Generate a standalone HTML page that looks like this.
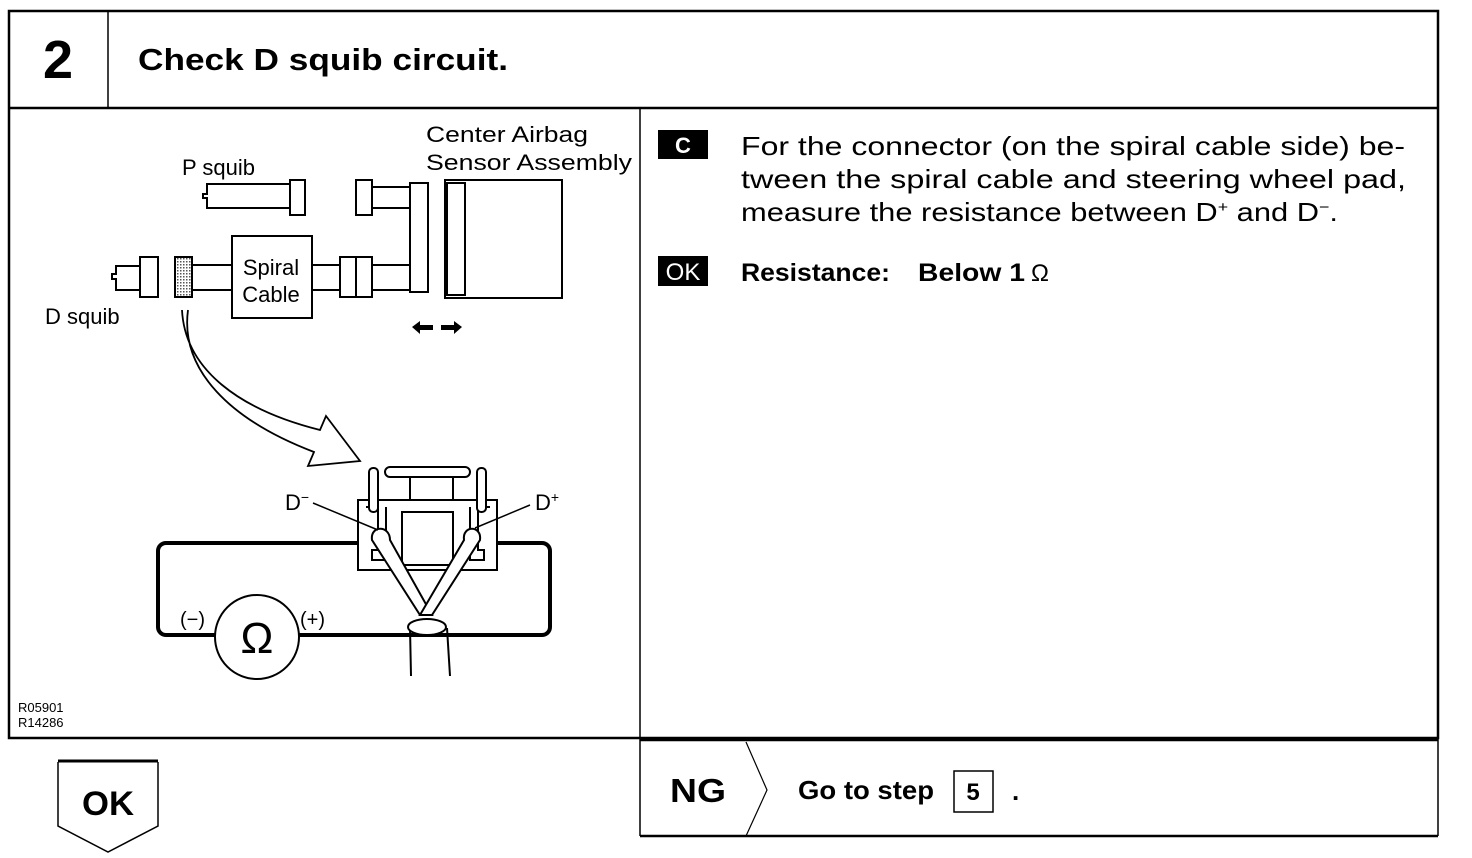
<!DOCTYPE html>
<html><head><meta charset="utf-8"><style>
html,body{margin:0;padding:0;background:#fff;}
svg{display:block;font-family:"Liberation Sans",sans-serif;}
</style></head><body>
<svg width="1472" height="858" viewBox="0 0 1472 858" xmlns="http://www.w3.org/2000/svg">
<g fill="none" stroke="#000">
  <rect x="9" y="11" width="1429" height="727" stroke-width="2.5"/>
  <line x1="9" y1="108" x2="1438" y2="108" stroke-width="2.5"/>
  <line x1="108" y1="11" x2="108" y2="108" stroke-width="1.5"/>
  <line x1="640" y1="108" x2="640" y2="836" stroke-width="1.5"/>
  <line x1="640" y1="740" x2="1438" y2="740" stroke-width="2.5"/>
  <line x1="640" y1="836" x2="1438" y2="836" stroke-width="2.5"/>
  <line x1="1438" y1="738" x2="1438" y2="836" stroke-width="1.5"/>
  <polyline points="746,742 767,790 746,836" stroke-width="1.2"/>
  <rect x="954" y="771" width="39" height="41" stroke-width="1.5"/>
  <polyline points="58,762 58,826 108,852 158,826 158,762" stroke-width="1.5"/>
  <line x1="58" y1="761" x2="158" y2="761" stroke-width="3"/>
</g>
<text x="43" y="78" font-size="54" font-weight="bold">2</text>
<text x="138" y="70" font-size="31" font-weight="bold" textLength="370" lengthAdjust="spacingAndGlyphs">Check D squib circuit.</text>

<rect x="658" y="130" width="50" height="29" fill="#000"/>
<text x="683" y="153" font-size="22" font-weight="bold" fill="#fff" text-anchor="middle">C</text>
<g font-size="26">
<text x="741" y="155" textLength="664" lengthAdjust="spacingAndGlyphs">For the connector (on the spiral cable side) be-</text>
<text x="741" y="188" textLength="665" lengthAdjust="spacingAndGlyphs">tween the spiral cable and steering wheel pad,</text>
<text x="741" y="221" textLength="597" lengthAdjust="spacingAndGlyphs">measure the resistance between D<tspan font-size="15" dy="-9">+</tspan><tspan dy="9"> and D</tspan><tspan font-size="15" dy="-9">−</tspan><tspan dy="9">.</tspan></text>
</g>
<rect x="658" y="256" width="50" height="30" fill="#000"/>
<text x="683" y="280" font-size="24" fill="#fff" text-anchor="middle">OK</text>
<text x="741" y="281" font-size="25" font-weight="bold" textLength="149" lengthAdjust="spacingAndGlyphs">Resistance:</text>
<text x="918" y="281" font-size="25" font-weight="bold" textLength="107" lengthAdjust="spacingAndGlyphs">Below 1</text>
<text x="1031" y="281" font-size="24">Ω</text>

<text x="670" y="802" font-size="33" font-weight="bold" textLength="56" lengthAdjust="spacingAndGlyphs">NG</text>
<text x="798" y="799" font-size="26" font-weight="bold" textLength="136" lengthAdjust="spacingAndGlyphs">Go to step</text>
<text x="973" y="800" font-size="24" font-weight="bold" text-anchor="middle">5</text>
<text x="1012" y="800" font-size="26" font-weight="bold">.</text>
<text x="108" y="815" font-size="34" font-weight="bold" text-anchor="middle" textLength="52" lengthAdjust="spacingAndGlyphs">OK</text>

<defs><pattern id="h" width="3" height="3" patternUnits="userSpaceOnUse"><rect width="3" height="3" fill="#fff"/><rect width="1.5" height="1.5" fill="#555"/></pattern></defs>
<g fill="#fff" stroke="#000" stroke-width="2">
  <path d="M290,184 H207 V194 H203 V198 H207 V208 H290"/>
  <rect x="290" y="180" width="15" height="35"/>
  <rect x="356" y="180" width="16" height="35"/>
  <line x1="372" y1="187" x2="410" y2="187"/>
  <line x1="372" y1="208" x2="410" y2="208"/>
  <rect x="410" y="183" width="18" height="109"/>
  <rect x="445" y="180" width="117" height="118"/>
  <rect x="447" y="183" width="18" height="112"/>
  <path d="M140,266 H116 V274 H112 V279 H116 V290 H140"/>
  <rect x="140" y="257" width="18" height="40"/>
  <rect x="175" y="257" width="17" height="40" fill="url(#h)"/>
  <line x1="192" y1="265" x2="232" y2="265"/>
  <line x1="192" y1="290" x2="232" y2="290"/>
  <rect x="232" y="236" width="80" height="82"/>
  <line x1="312" y1="265" x2="340" y2="265"/>
  <line x1="312" y1="290" x2="340" y2="290"/>
  <rect x="340" y="257" width="32" height="40"/>
  <line x1="356" y1="257" x2="356" y2="297"/>
  <line x1="372" y1="265" x2="410" y2="265"/>
  <line x1="372" y1="290" x2="410" y2="290"/>
</g>
<g fill="#000">
  <polygon points="412,327 420,321 420,325 433,325 433,330 420,330 420,334"/>
  <polygon points="462,327 454,321 454,325 441,325 441,330 454,330 454,334"/>
</g>
<path d="M182,310 C185,370 240,410 320,430 L326,416 L360,461 L308,466 L314,452 C230,420 180,370 188,310" fill="#fff" stroke="#000" stroke-width="1.8"/>
<g fill="#fff" stroke="#000" stroke-width="2">
  <rect x="158" y="543" width="392" height="92" rx="8" stroke-width="4" fill="none"/>
  <rect x="358" y="500" width="139" height="70"/>
  <path d="M366,507 H378 V550 H372 V560 H386 V507"/>
  <path d="M490,507 H478 V550 H484 V560 H470 V507"/>
  <rect x="402" y="512" width="51" height="53"/>
  <rect x="410" y="477" width="43" height="23"/>
  <rect x="385" y="467" width="85" height="10" rx="5"/>
  <rect x="369" y="468" width="9" height="44" rx="4"/>
  <rect x="477" y="468" width="9" height="44" rx="4"/>
  <circle cx="257" cy="637" r="42"/>
  <path d="M372,540 C370,525 390,525 390,540 L432,615 L420,615 Z"/>
  <path d="M480,540 C482,525 462,525 464,540 L420,615 L432,615 Z"/>
  <line x1="410" y1="628" x2="411" y2="676"/>
  <line x1="447" y1="628" x2="450" y2="676"/>
  <ellipse cx="427" cy="627" rx="19" ry="8"/>
</g>
<g stroke="#000" stroke-width="1.5">
  <line x1="313" y1="503" x2="378" y2="530"/>
  <line x1="530" y1="505" x2="475" y2="528"/>
</g>
<g font-size="22">
<text x="182" y="175">P squib</text>
<text x="426" y="142" textLength="162" lengthAdjust="spacingAndGlyphs">Center Airbag</text>
<text x="426" y="170" textLength="206" lengthAdjust="spacingAndGlyphs">Sensor Assembly</text>
<text x="271" y="275" text-anchor="middle">Spiral</text>
<text x="271" y="302" text-anchor="middle">Cable</text>
<text x="45" y="324">D squib</text>
<text x="285" y="510">D<tspan font-size="14" dy="-8">−</tspan></text>
<text x="535" y="510">D<tspan font-size="14" dy="-8">+</tspan></text>
<text x="180" y="626" font-size="20">(−)</text>
<text x="300" y="626" font-size="20">(+)</text>
<text x="257" y="653" font-size="44" text-anchor="middle">Ω</text>
</g>
<text x="18" y="712" font-size="13">R05901</text>
<text x="18" y="727" font-size="13">R14286</text>
</svg>
</body></html>
